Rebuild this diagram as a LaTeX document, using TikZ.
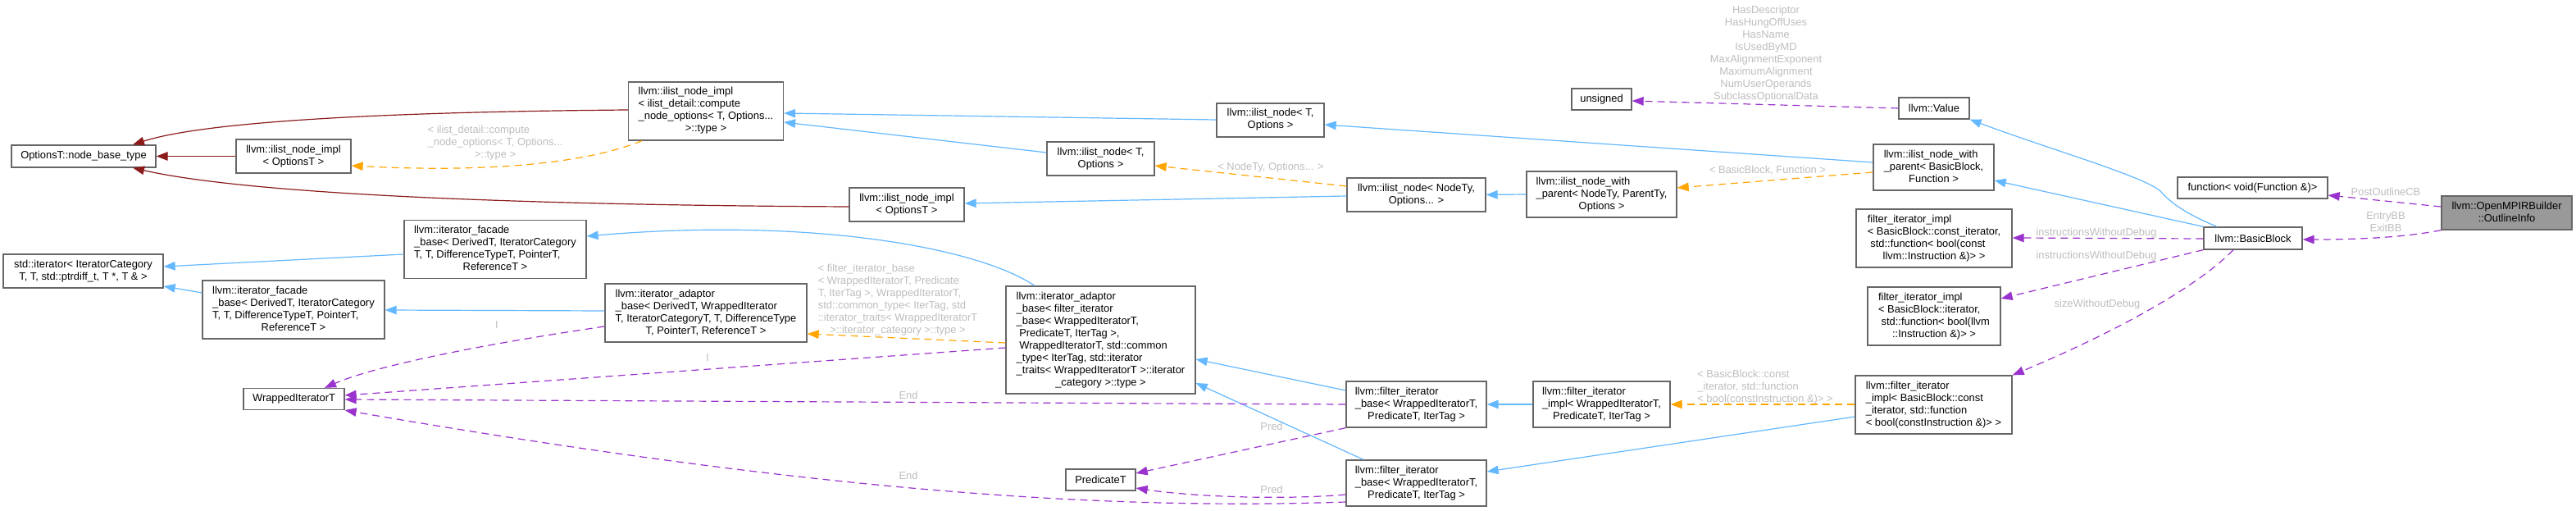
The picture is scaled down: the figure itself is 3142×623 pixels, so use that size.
\documentclass[tikz,border=0pt]{standalone}
\usepackage{fontspec}
\setmainfont{Liberation Sans}
\usetikzlibrary{arrows.meta,calc}
\definecolor{cblue}{HTML}{63B8FF}
\definecolor{cred}{HTML}{8B1A1A}
\definecolor{corange}{HTML}{FFA500}
\definecolor{cpurple}{HTML}{9A32CD}
\definecolor{lgray}{HTML}{BEBEBE}
\definecolor{bgray}{HTML}{666666}
\definecolor{rootfill}{HTML}{999999}
\newcommand{\ml}[2]{\begin{tabular}{@{}l@{}}#1\\\multicolumn{1}{@{}c@{}}{#2}\end{tabular}}
\begin{document}
\begin{tikzpicture}[x=1pt,y=-1pt,
  box/.style={draw=bgray, fill=white, line width=1.3pt, inner sep=0pt, font=\fontsize{12.9}{15}\selectfont, text=black},
  sz/.style 2 args={minimum width=#1pt, minimum height=#2pt},
  lbl/.style={inner sep=0pt, text=lgray, font=\fontsize{12.9}{15}\selectfont},
  tip/.style={-{Triangle[length=14pt,width=10.5pt]}},
  lb/.style={tip, draw=cblue, line width=1.2pt},
  lr/.style={tip, draw=cred, line width=1.2pt},
  lo/.style={tip, draw=corange, line width=1.2pt, dash pattern=on 9pt off 6pt},
  lp/.style={tip, draw=cpurple, line width=1.2pt, dash pattern=on 9pt off 6pt},
]
\fill[white] (0,0) rectangle (3142,623);
\useasboundingbox (0,0) rectangle (3142,623);

% nodes
\node[box, sz={176}{27}] (ob) at (102,190.5) {OptionsT::node\_base\_type};
\node[box, sz={140}{41}] (a) at (358,190.5) {\ml{llvm::ilist\_node\_impl}{< OptionsT >}};
\node[box, sz={195}{41}] (si) at (101.5,330.5) {\ml{std::iterator< IteratorCategory}{T, T, std::ptrdiff\_t, T *, T \& >}};
\node[box, sz={222}{71}] (fa) at (358,377.5) {\ml{llvm::iterator\_facade\\\_base< DerivedT, IteratorCategory\\T, T, DifferenceTypeT, PointerT,}{ReferenceT >}};
\node[box, sz={222}{71}] (fb) at (604,304) {\ml{llvm::iterator\_facade\\\_base< DerivedT, IteratorCategory\\T, T, DifferenceTypeT, PointerT,}{ReferenceT >}};
\node[box, sz={123}{26}] (wi) at (358.5,486.5) {WrappedIteratorT};
\node[box, sz={189}{71}] (ci) at (861,135.5) {\ml{llvm::ilist\_node\_impl\\< ilist\_detail::compute\\\_node\_options< T, Options...}{>::type >}};
\node[box, sz={246}{71}] (c) at (861,381.5) {\ml{llvm::iterator\_adaptor\\\_base< DerivedT, WrappedIterator\\T, IteratorCategoryT, T, DifferenceType}{T, PointerT, ReferenceT >}};
\node[box, sz={140}{41}] (i2) at (1106,249.5) {\ml{llvm::ilist\_node\_impl}{< OptionsT >}};
\node[box, sz={131}{41}] (h) at (1342.5,193.5) {\ml{llvm::ilist\_node< T,}{Options >}};
\node[box, sz={231}{131}] (d) at (1342.5,414.5) {\ml{llvm::iterator\_adaptor\\\_base< filter\_iterator\\\_base< WrappedIteratorT,\\\ PredicateT, IterTag >,\\\ WrappedIteratorT, std::common\\\_type< IterTag, std::iterator\\\_traits< WrappedIteratorT >::iterator}{\_category >::type >}};
\node[box, sz={85}{26}] (pt) at (1342.5,585) {PredicateT};
\node[box, sz={131}{41}] (g) at (1549.5,146.5) {\ml{llvm::ilist\_node< T,}{Options >}};
\node[box, sz={169}{41}] (j) at (1727.5,237.5) {\ml{llvm::ilist\_node< NodeTy,}{Options... >}};
\node[box, sz={171}{56}] (e) at (1727.5,493) {\ml{llvm::filter\_iterator\\\_base< WrappedIteratorT,}{PredicateT, IterTag >}};
\node[box, sz={171}{56}] (f) at (1727.5,589) {\ml{llvm::filter\_iterator\\\_base< WrappedIteratorT,}{PredicateT, IterTag >}};
\node[box, sz={183}{56}] (k) at (1953.5,237) {\ml{llvm::ilist\_node\_with\\\_parent< NodeTy, ParentTy,}{Options >}};
\node[box, sz={167}{56}] (m) at (1953.5,493) {\ml{llvm::filter\_iterator\\\_impl< WrappedIteratorT,}{PredicateT, IterTag >}};
\node[box, sz={73}{26}] (un) at (1953.5,121) {unsigned};
\node[box, sz={86}{26}] (v) at (2359,132) {llvm::Value};
\node[box, sz={147}{56}] (l) at (2358.5,204) {\ml{llvm::ilist\_node\_with\\\_parent< BasicBlock,}{Function >}};
\node[box, sz={190}{71}] (o) at (2359,290.5) {\ml{filter\_iterator\_impl\\< BasicBlock::const\_iterator,\\\ std::function< bool(const}{llvm::Instruction \&)> >}};
\node[box, sz={162}{71}] (p) at (2359,385.5) {\ml{filter\_iterator\_impl\\< BasicBlock::iterator,\\\ std::function< bool(llvm}{::Instruction \&)> >}};
\node[box, sz={191}{71}] (n) at (2358.5,493.5) {\ml{llvm::filter\_iterator\\\_impl< BasicBlock::const\\\_iterator, std::function}{< bool(constInstruction \&)> >}};
\node[box, sz={183}{26}] (fn) at (2747.5,229) {function< void(Function \&)>};
\node[box, sz={120}{27}] (bb) at (2748,290.5) {llvm::BasicBlock};
\node[box, sz={159}{41}, fill=rootfill] (oi) at (3057.5,259.5) {\ml{llvm::OpenMPIRBuilder}{::OutlineInfo}};

% edge labels
\node[lbl] (t1) at (604,174) {\ml{< ilist\_detail::compute\\\_node\_options< T, Options...}{>::type >}};
\node[lbl] (t2) at (1550,204) {< NodeTy, Options... >};
\node[lbl] (t3) at (2156,208) {< BasicBlock, Function >};
\node[lbl, align=center] (t4) at (2154,66) {HasDescriptor\\HasHungOffUses\\HasName\\IsUsedByMD\\MaxAlignmentExponent\\MaximumAlignment\\NumUserOperands\\SubclassOptionalData};
\node[lbl] (t5) at (2557,284) {instructionsWithoutDebug};
\node[lbl] (t6) at (2557,312) {instructionsWithoutDebug};
\node[lbl] (t7) at (2558,371) {sizeWithoutDebug};
\node[lbl] (t8) at (2910,234) {PostOutlineCB};
\node[lbl, align=center] (t9) at (2910,271) {EntryBB\\ExitBB};
\node[lbl] (t10) at (2153,472) {\ml{< BasicBlock::const\\\_iterator, std::function}{< bool(constInstruction \&)> >}};
\node[lbl] (t11) at (1095,365.5) {\ml{< filter\_iterator\_base\\< WrappedIteratorT, Predicate\\T, IterTag >, WrappedIteratorT,\\std::common\_type< IterTag, std\\::iterator\_traits< WrappedIteratorT}{>::iterator\_category >::type >}};
\node[lbl] (t12) at (1108,482) {End};
\node[lbl] (t13) at (1108,580) {End};
\node[lbl] (t14) at (1551,520) {Pred};
\node[lbl] (t15) at (1551,597) {Pred};
\node[lbl] (t16) at (606,396) {I};
\node[lbl] (t17) at (863,436) {I};

% red edges
\draw[lr] (a.west) -- (ob.east);
\draw[lr] (ci.west |- 0,134) .. controls (520,136) and (260,145) .. (ob.north -| 162,0);
\draw[lr] (i2.west |- 0,252) .. controls (620,250) and (300,236) .. (ob.south -| 162,0);

% blue edges
\draw[lb] (g.west |- 0,146) -- (ci.east |- 0,138);
\draw[lb] (h.west |- 0,186) -- (ci.east |- 0,149);
\draw[lb] (j.west |- 0,239) -- (i2.east |- 0,248);
\draw[lb] (k.west) -- (j.east);
\draw[lb] (l.west |- 0,198) -- (g.east |- 0,152);
\draw[lb] (bb.north -| 2704,0) .. controls (2670,262) and (2650,250) .. (2635,233) .. controls (2615,215) and (2500,182) .. (v.south east);
\draw[lb] (bb.north west) -- (l.east |- 0,220);
\draw[lb] (n.west |- 0,508) -- (f.east |- 0,575);
\draw[lb] (m.west) -- (e.east);
\draw[lb] (e.west |- 0,476) -- (d.east |- 0,438);
\draw[lb] (f.north -| 1663,0) -- (d.east |- 0,467);
\draw[lb] (d.north -| 1262,0) .. controls (1190,300) and (980,265) .. (fb.east |- 0,288);
\draw[lb] (c.west |- 0,379) -- (fa.east |- 0,378);
\draw[lb] (fb.west |- 0,310) -- (si.east |- 0,325);
\draw[lb] (fa.west |- 0,357) -- (si.east |- 0,349);

% orange edges
\draw[lo] (ci.south -| 783,0) .. controls (700,205) and (560,209) .. (a.east |- 0,202);
\draw[lo] (j.west |- 0,227) -- (h.east |- 0,202);
\draw[lo] (l.west |- 0,210) -- (k.east |- 0,229);
\draw[lo] (n.west |- 0,493) -- (m.east |- 0,493);
\draw[lo] (d.west |- 0,418) -- (c.east |- 0,407);

% purple edges
\draw[lp] (v.west) -- (un.east |- 0,123);
\draw[lp] (bb.west |- 0,291) -- (o.east |- 0,290);
\draw[lp] (bb.south west) -- (p.east |- 0,364);
\draw[lp] (bb.south -| 2724,0) .. controls (2680,350) and (2580,405) .. (n.north east);
\draw[lp] (oi.west |- 0,252) -- (fn.east |- 0,238);
\draw[lp] (oi.south west) .. controls (2930,290) and (2870,292) .. (bb.east |- 0,292);
\draw[lp] (e.west) -- (wi.east |- 0,487);
\draw[lp] (f.west |- 0,612) .. controls (1350,622) and (1000,600) .. (wi.south east);
\draw[lp] (e.south west) -- (pt.east |- 0,577);
\draw[lp] (f.west |- 0,603) .. controls (1560,610) and (1450,605) .. (pt.east |- 0,595);
\draw[lp] (c.west |- 0,398) .. controls (600,418) and (460,445) .. (wi.north -| 396,0);
\draw[lp] (d.west |- 0,424) -- (wi.east |- 0,482);
\end{tikzpicture}
\end{document}
